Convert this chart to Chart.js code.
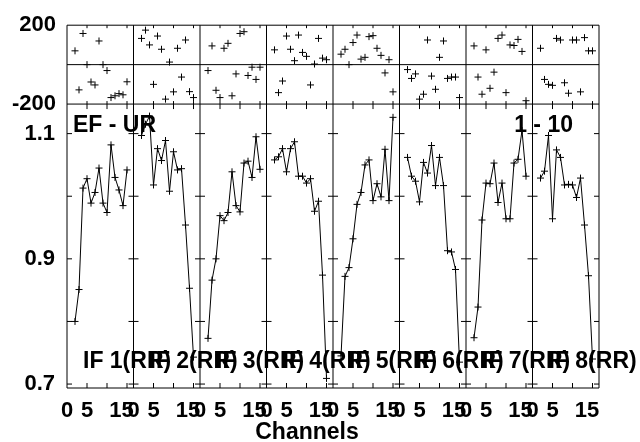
<!DOCTYPE html>
<html>
<head>
<meta charset="utf-8">
<script src="https://cdn.jsdelivr.net/npm/chart.js@4"></script>
<style>
  html, body { margin: 0; padding: 0; background: #fff; }
</style>
</head>
<body>
<canvas id="spectra" width="640" height="442"></canvas>
<script>
// channels plotted in every IF panel
const channels = [2, 3, 4, 5, 6, 7, 8, 9, 10, 11, 12, 13, 14, 15];

// phase (degrees), one list per IF
const phaseIF1 = [70, -128, 158, 0, -88, -103, 120, 0, -30, -167, -158, -147, -153, -87];
const phaseIF2 = [133, 175, 100, -100, 145, 78, -175, 13, -138, 83, -63, 125, -137, -167];
const phaseIF3 = [-30, 95, -130, -167, 83, 108, -158, -47, 158, 167, -55, -13, -75, -13];
const phaseIF4 = [75, -142, -83, 145, 78, 20, 150, 62, 42, -103, 3, 133, 33, 25];
const phaseIF5 = [53, 78, 0, 112, 150, 28, 37, 142, 147, 83, 47, -42, 25, -138];
const phaseIF6 = [-25, -70, -47, -175, -150, 125, -58, -125, 37, 120, -70, -63, -63, -167];
const phaseIF7 = [95, -63, -150, 75, -120, -38, 133, 150, -142, 100, 97, 128, 67, -183];
const phaseIF8 = [83, -75, -100, -105, 133, 125, -92, -145, 125, 125, -138, 137, 70, 70];

// amplitude, one list per IF
const ampIF1 = [0.800, 0.851, 1.013, 1.028, 0.989, 1.006, 1.045, 0.989, 0.974, 1.082, 1.030, 1.010, 0.985, 1.042];
const ampIF2 = [1.097, 1.115, 1.128, 1.018, 1.076, 1.057, 1.089, 1.008, 1.071, 1.042, 1.044, 0.954, 0.853, 0.743];
const ampIF3 = [0.773, 0.866, 0.900, 0.969, 0.961, 0.974, 1.039, 0.985, 0.975, 1.053, 1.056, 1.030, 1.095, 1.043];
const ampIF4 = [1.058, 1.063, 1.076, 1.039, 1.076, 1.087, 1.032, 1.032, 1.021, 1.028, 0.976, 0.992, 0.874, 0.709];
const ampIF5 = [0.745, 0.872, 0.886, 0.932, 0.987, 1.006, 1.050, 1.058, 0.993, 1.020, 0.999, 1.075, 0.993, 1.126];
const ampIF6 = [1.062, 1.032, 1.024, 0.991, 1.054, 1.037, 1.081, 1.017, 1.062, 1.017, 0.913, 0.911, 0.883, 0.735];
const ampIF7 = [0.774, 0.823, 0.962, 1.021, 1.020, 1.053, 0.990, 1.021, 0.964, 0.964, 1.053, 1.059, 1.105, 1.032];
const ampIF8 = [1.029, 1.040, 1.097, 0.964, 1.074, 1.062, 1.018, 1.019, 1.018, 0.998, 1.029, 0.954, 0.873, 0.740];

const phases = [phaseIF1, phaseIF2, phaseIF3, phaseIF4, phaseIF5, phaseIF6, phaseIF7, phaseIF8];
const amps = [ampIF1, ampIF2, ampIF3, ampIF4, ampIF5, ampIF6, ampIF7, ampIF8];
const ifLabels = ['IF 1(RR)', 'IF 2(RR)', 'IF 3(RR)', 'IF 4(RR)', 'IF 5(RR)', 'IF 6(RR)', 'IF 7(RR)', 'IF 8(RR)'];

// tick labels (the 15 sits a little left of its tick, as in the original plot)
const xTickChannels = [0, 5, 10, 15];
const xTickLabels = ['0', '5', '', '15\u2002'];
const ampTicks = [0.7, 0.8, 0.9, 1.0, 1.1];
const ampTickLabels = ['0.7', '', '0.9', '', '1.1'];
const phaseTicks = [-200, 200];
const phaseTickLabels = ['-200', '200'];

const FONT = '"Liberation Sans", Arial, sans-serif';
const SPAN = 16.625;   // channel width of one IF panel on the shared x axis

const xTicks = [], xTickText = [];
amps.forEach((a, p) => {
  xTickChannels.forEach((c, i) => { xTicks.push(p * SPAN + c); xTickText.push(xTickLabels[i]); });
});

const datasets = [];
amps.forEach((a, p) => {
  datasets.push({
    data: channels.map((c, i) => ({ x: p * SPAN + c, y: phases[p][i] })),
    yAxisID: 'yP', showLine: false,
    pointStyle: 'cross', pointRadius: 3.5, borderColor: '#000', borderWidth: 1
  });
  datasets.push({
    data: channels.map((c, i) => ({ x: p * SPAN + c, y: a[i] })),
    yAxisID: 'yA', showLine: true,
    pointStyle: 'cross', pointRadius: 3.5, borderColor: '#000', borderWidth: 1
  });
});

const tickFont = { family: FONT, size: 22, weight: 'bold' };

const frames = {
  id: 'frames',
  afterDatasetsDraw(chart) {
    const { ctx, scales: { x, yA, yP } } = chart;
    const top = yP.top, mid = yP.getPixelForValue(0), sep = yA.top, bot = yA.bottom;
    const L = x.left, R = x.right;
    ctx.save();
    ctx.strokeStyle = '#000';
    ctx.lineWidth = 1;
    ctx.beginPath();
    [top, mid, sep, bot].forEach(y => { ctx.moveTo(L, y); ctx.lineTo(R, y); });
    for (let p = 0; p <= amps.length; p++) {
      const xb = x.getPixelForValue(p * SPAN);
      ctx.moveTo(xb, top); ctx.lineTo(xb, bot);
      ampTicks.forEach(v => {
        const yy = yA.getPixelForValue(v);
        ctx.moveTo(Math.max(L, xb - 5), yy); ctx.lineTo(Math.min(R, xb + 5), yy);
      });
    }
    amps.forEach((a, p) => {
      xTickChannels.slice(1).forEach(c => {
        const xx = x.getPixelForValue(p * SPAN + c);
        ctx.moveTo(xx, top); ctx.lineTo(xx, top + 3);
        ctx.moveTo(xx, sep - 3); ctx.lineTo(xx, sep + 5);
        ctx.moveTo(xx, bot - 5); ctx.lineTo(xx, bot);
      });
    });
    ctx.stroke();

    ctx.fillStyle = '#000';
    ctx.font = 'bold 23px ' + FONT;
    ctx.textBaseline = 'alphabetic';
    ctx.textAlign = 'left';
    ctx.fillText('EF - UR', L + 6, sep + 28);
    ifLabels.forEach((t, p) => ctx.fillText(t, x.getPixelForValue(p * SPAN) + 16, bot - 20));
    ctx.textAlign = 'right';
    ctx.fillText('1 - 10', R - 26, sep + 28);
    ctx.textAlign = 'center';
    ctx.fillText('Channels', (L + R) / 2 - 26, 439);
    ctx.restore();
  }
};

new Chart(document.getElementById('spectra').getContext('2d'), {
  type: 'scatter',
  data: { datasets },
  options: {
    responsive: false,
    animation: false,
    devicePixelRatio: 1,
    layout: { padding: { top: 20, right: 41, left: 0, bottom: 0 } },
    plugins: { legend: { display: false }, tooltip: { enabled: false } },
    scales: {
      x: {
        type: 'linear', min: 0, max: amps.length * SPAN,
        grid: { display: false, drawTicks: false }, border: { display: false },
        afterBuildTicks: s => { s.ticks = xTicks.map(v => ({ value: v })); },
        afterFit: s => { s.height = 54; },
        ticks: { autoSkip: false, maxRotation: 0, padding: 10, color: '#000', font: tickFont,
                 callback: (v, i) => xTickText[i] }
      },
      yA: {
        type: 'linear', position: 'left', stack: 'col', stackWeight: 288,
        min: 0.6937, max: 1.1472,
        grid: { display: false, drawTicks: false }, border: { display: false },
        afterBuildTicks: s => { s.ticks = ampTicks.map(v => ({ value: v })); },
        afterFit: s => { s.width = 67; },
        ticks: { padding: 12, color: '#000', font: tickFont, callback: (v, i) => ampTickLabels[i] }
      },
      yP: {
        type: 'linear', position: 'left', stack: 'col', stackWeight: 80,
        min: -200, max: 200,
        grid: { display: false, drawTicks: false }, border: { display: false },
        afterBuildTicks: s => { s.ticks = phaseTicks.map(v => ({ value: v })); },
        afterFit: s => { s.width = 67; },
        ticks: { padding: 11, color: '#000', font: tickFont, callback: (v, i) => phaseTickLabels[i] }
      }
    }
  },
  plugins: [frames]
});
</script>
</body>
</html>
